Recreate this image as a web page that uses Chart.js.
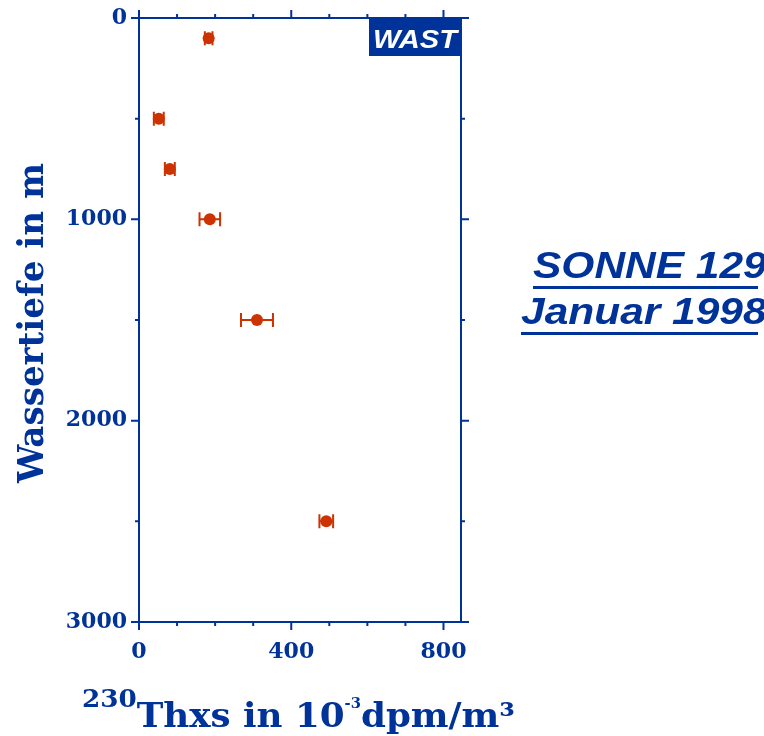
<!DOCTYPE html>
<html>
<head>
<meta charset="utf-8">
<script src="https://cdn.jsdelivr.net/npm/chart.js@4/dist/chart.umd.min.js"></script>
<style>
html,body{margin:0;padding:0;background:#fff;}
#wrap{width:764px;height:736px;position:relative;}
</style>
</head>
<body>
<div id="wrap"><canvas id="c" width="764" height="736"></canvas></div>
<script>
// ---- data ----
const depthM   = [100, 500, 750, 1000, 1500, 2500];      // Wassertiefe in m
const th230    = [183, 52, 81, 186, 310, 492];           // 230Thxs in 10^-3 dpm/m3
const th230Err = [10, 13, 13, 27, 42, 18];               // +/- error
const xTickLabels = [0, 400, 800];
const yTickLabels = [0, 1000, 2000, 3000];
const xMinorStep = 100, yMinorStep = 500;
const stationLabel = 'WAST';
const cruiseLines = ['SONNE 129', 'Januar 1998'];
const yTitle = 'Wassertiefe in m';

const BLUE = '#003399';
const RED = '#CC3300';

const points = depthM.map((d, i) => ({x: th230[i], y: d, e: th230Err[i]}));

const framePlugin = {
  id: 'frame',
  beforeDatasetsDraw(chart) {
    const {ctx, scales: {x, y}} = chart;
    ctx.save();
    ctx.strokeStyle = RED;
    ctx.lineWidth = 2;
    chart.data.datasets[0].data.forEach(p => {
      const py = y.getPixelForValue(p.y);
      const x1 = x.getPixelForValue(p.x - p.e);
      const x2 = x.getPixelForValue(p.x + p.e);
      ctx.beginPath();
      ctx.moveTo(x1, py); ctx.lineTo(x2, py);
      ctx.moveTo(x1, py - 7); ctx.lineTo(x1, py + 7);
      ctx.moveTo(x2, py - 7); ctx.lineTo(x2, py + 7);
      ctx.stroke();
    });
    ctx.restore();
  },
  afterDraw(chart) {
    const {ctx, chartArea: a, scales: {x, y}} = chart;
    ctx.save();
    ctx.strokeStyle = BLUE;
    ctx.lineWidth = 2;
    ctx.strokeRect(a.left, a.top, a.right - a.left, a.bottom - a.top);
    ctx.beginPath();
    for (let v = x.min; v <= x.max; v += xMinorStep) {
      const px = x.getPixelForValue(v);
      const len = xTickLabels.includes(v) ? 8 : 4;
      ctx.moveTo(px, a.top); ctx.lineTo(px, a.top - len);
      ctx.moveTo(px, a.bottom); ctx.lineTo(px, a.bottom + len);
    }
    for (let v = y.min; v <= y.max; v += yMinorStep) {
      const py = y.getPixelForValue(v);
      const len = yTickLabels.includes(v) ? 8 : 4;
      ctx.moveTo(a.left, py); ctx.lineTo(a.left - len, py);
      ctx.moveTo(a.right, py); ctx.lineTo(a.right + len, py);
    }
    ctx.stroke();

    // WAST box
    ctx.fillStyle = BLUE;
    ctx.fillRect(369, a.top, a.right - 369, 38);
    ctx.fillStyle = '#fff';
    ctx.font = 'italic bold 26px "Liberation Sans", Arial, sans-serif';
    ctx.textAlign = 'center';
    ctx.textBaseline = 'alphabetic';
    ctx.save();
    ctx.translate((369 + a.right) / 2, a.top + 30);
    ctx.scale(1.12, 1);
    ctx.fillText(stationLabel, 0, 0);
    ctx.restore();

    // y title
    ctx.fillStyle = BLUE;
    ctx.font = 'bold 31px "DejaVu Serif", serif';
    ctx.save();
    ctx.translate(43, 323);
    ctx.rotate(-Math.PI / 2);
    ctx.textAlign = 'center';
    const yw = ctx.measureText(yTitle).width;
    ctx.scale(320 / yw, 1.12);
    ctx.fillText(yTitle, 0, 0);
    ctx.restore();

    // x title with superscripts
    ctx.textAlign = 'left';
    const parts = [
      {t: '230', f: 'bold 25px "DejaVu Serif", serif', dy: -20},
      {t: 'Thxs in 10', f: 'bold 34px "DejaVu Serif", serif', dy: 0},
      {t: '-3', f: 'bold 14px "DejaVu Serif", serif', dy: -19},
      {t: 'dpm/m\u00b3', f: 'bold 34px "DejaVu Serif", serif', dy: 0}
    ];
    let tw = 0;
    parts.forEach(p => { ctx.font = p.f; p.w = ctx.measureText(p.t).width; tw += p.w; });
    ctx.save();
    ctx.translate(82, 727);
    ctx.scale(433 / tw, 1);
    let cx = 0;
    parts.forEach(p => { ctx.font = p.f; ctx.fillText(p.t, cx, p.dy); cx += p.w; });
    ctx.restore();

    // cruise annotation
    ctx.font = 'italic bold 36px "Liberation Sans", Arial, sans-serif';
    const starts = [533, 521], bases = [278, 324];
    cruiseLines.forEach((t, i) => {
      ctx.save();
      ctx.translate(starts[i], bases[i]);
      ctx.scale(1.18, 1);
      ctx.fillText(t, 0, 0);
      ctx.restore();
      ctx.fillRect(starts[i], bases[i] + 8, 758 - starts[i], 3);
    });
    ctx.restore();
  }
};

new Chart(document.getElementById('c'), {
  type: 'scatter',
  data: {
    datasets: [{
      data: points,
      backgroundColor: RED,
      borderColor: RED,
      pointRadius: 6,
      pointHoverRadius: 6,
      borderWidth: 0
    }]
  },
  options: {
    responsive: false,
    animation: false,
    events: [],
    layout: {padding: {left: 0, right: 303, top: 18, bottom: 0}},
    plugins: {legend: {display: false}, tooltip: {enabled: false}},
    scales: {
      x: {
        type: 'linear', min: 0, max: 846,
        grid: {display: false, drawTicks: false},
        border: {display: false},
        afterFit: s => { s.height = 114; s.paddingLeft = 0; s.paddingRight = 0; },
        afterBuildTicks: s => { s.ticks = xTickLabels.map(v => ({value: v})); },
        ticks: {
          autoSkip: false, maxRotation: 0, padding: 17, color: BLUE,
          callback: v => String(v),
          font: {family: '"DejaVu Serif", serif', size: 22, weight: 'bold'}
        }
      },
      y: {
        type: 'linear', min: 0, max: 3000, reverse: true,
        grid: {display: false, drawTicks: false},
        border: {display: false},
        afterFit: s => { s.width = 139; s.paddingTop = 0; s.paddingBottom = 0; },
        afterBuildTicks: s => { s.ticks = yTickLabels.map(v => ({value: v})); },
        ticks: {
          autoSkip: false, padding: 12, color: BLUE,
          callback: v => String(v),
          font: {family: '"DejaVu Serif", serif', size: 22, weight: 'bold'}
        }
      }
    }
  },
  plugins: [framePlugin]
});
</script>
</body>
</html>
